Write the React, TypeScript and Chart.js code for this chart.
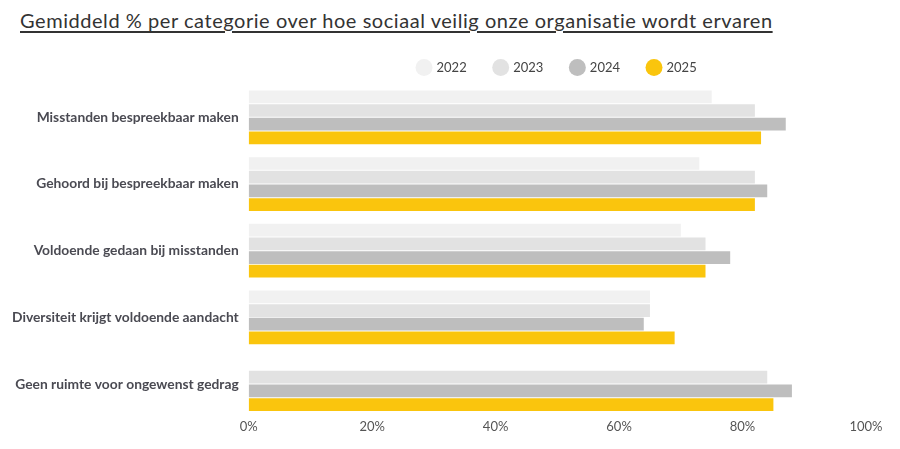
import { useEffect, useRef } from 'react';
import { Chart, registerables } from 'chart.js';

Chart.register(...registerables);

const categories = [
  'Misstanden bespreekbaar maken',
  'Gehoord bij bespreekbaar maken',
  'Voldoende gedaan bij misstanden',
  'Diversiteit krijgt voldoende aandacht',
  'Geen ruimte voor ongewenst gedrag',
];
const years = ['2022', '2023', '2024', '2025'];
const values2022 = [75, 73, 70, 65, null];
const values2023 = [82, 82, 74, 65, 84];
const values2024 = [87, 84, 78, 64, 88];
const values2025 = [83, 82, 74, 69, 85];
const yearColors = ['#f1f1f1', '#e2e2e2', '#bebebe', '#fac50d'];
const xTicks = [0, 20, 40, 60, 80, 100];

const FONT = 'Lato, "Open Sans", sans-serif';

export default function App() {
  const canvasRef = useRef<HTMLCanvasElement | null>(null);

  useEffect(() => {
    if (!canvasRef.current) return;
    const series = [values2022, values2023, values2024, values2025];
    const chart = new Chart(canvasRef.current, {
      type: 'bar',
      data: {
        labels: categories,
        datasets: years.map((y, i) => ({
          label: y,
          data: series[i],
          backgroundColor: yearColors[i],
          borderWidth: 0,
          categoryPercentage: 0.82,
          barPercentage: 0.93,
        })),
      },
      options: {
        indexAxis: 'y',
        animation: false,
        responsive: true,
        maintainAspectRatio: false,
        layout: { padding: { left: 2, right: 34, top: 6, bottom: 12 } },
        plugins: {
          legend: {
            position: 'top',
            fullSize: false,
            labels: {
              usePointStyle: true,
              pointStyle: 'circle',
              boxWidth: 12,
              boxHeight: 12,
              padding: 28,
              color: '#444',
              font: { family: FONT, size: 13 },
            },
          },
          tooltip: { enabled: false },
        },
        scales: {
          x: {
            min: 0,
            max: 100,
            afterBuildTicks: (axis) => {
              axis.ticks = xTicks.map((v) => ({ value: v }));
            },
            grid: { display: false, drawTicks: false },
            border: { display: false },
            ticks: {
              padding: 2,
              color: '#555',
              font: { family: FONT, size: 13 },
              callback: (v) => `${v}%`,
            },
          },
          y: {
            grid: { display: false, drawTicks: false },
            border: { display: false },
            ticks: {
              padding: 10,
              color: '#4a4a52',
              font: { family: FONT, size: 13.8, weight: 'bold' },
            },
          },
        },
      },
    });
    return () => chart.destroy();
  }, []);

  return (
    <div style={{ position: 'absolute', left: 0, top: 0, width: 900, height: 449, background: '#fff', fontFamily: FONT }}>
      <div
        style={{
          position: 'absolute',
          left: 20,
          top: 8,
          fontSize: 20,
          letterSpacing: 0.55,
          color: '#333',
          textDecoration: 'underline',
          textUnderlineOffset: 3,
          whiteSpace: 'nowrap',
        }}
      >
        Gemiddeld % per categorie over hoe sociaal veilig onze organisatie wordt ervaren
      </div>
      <div style={{ position: 'absolute', left: 0, top: 27, width: 900, height: 422 }}>
        <canvas ref={canvasRef} />
      </div>
    </div>
  );
}
